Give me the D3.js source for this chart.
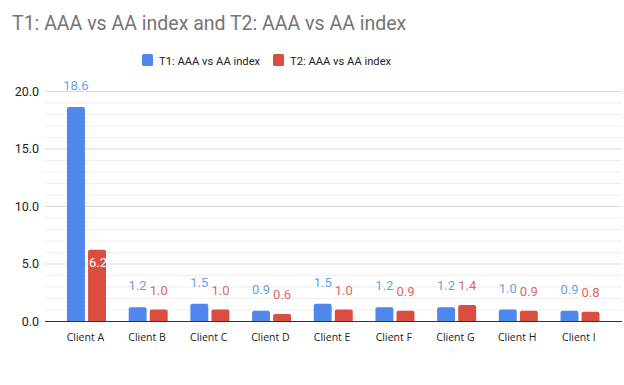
<!DOCTYPE html>
<html><head><meta charset="utf-8">
<script src="https://cdn.jsdelivr.net/npm/d3@7"></script>
<style>body{margin:0;background:#fff}svg{display:block;font-family:Roboto,Arial,sans-serif}</style>
</head><body><svg id="c" width="624" height="385"></svg>
<script>
const categories = ["Client A","Client B","Client C","Client D","Client E","Client F","Client G","Client H","Client I"];
const seriesNames = ["T1: AAA vs AA index","T2: AAA vs AA index"];
const t1Values = [18.6,1.2,1.5,0.9,1.5,1.2,1.2,1.0,0.9];
const t2Values = [6.2,1.0,1.0,0.6,1.0,0.9,1.4,0.9,0.8];
const yTicks = [0,5,10,15,20];
const colors = ["#4f87ec","#db4d3e"];
const labelColors = ["#6d9eeb","#e06666"];

const svg = d3.select("#c");
const y = d3.scaleLinear().domain([0,20]).range([321,91]);
const x = d3.scaleBand().domain(categories).range([56,611.2]).paddingInner(0).paddingOuter(0);
const x1 = d3.scaleBand().domain([0,1]).range([11,50]).paddingInner(0.15).paddingOuter(0);

// title
svg.append("text").attr("x",12).attr("y",30).attr("font-size",19.5).attr("fill","#757575")
  .text("T1: AAA vs AA index and T2: AAA vs AA index");

// legend
const leg = [{x:142,t:seriesNames[0],c:colors[0]},{x:273,t:seriesNames[1],c:colors[1]}];
leg.forEach(l=>{
  svg.append("rect").attr("x",l.x).attr("y",54).attr("width",11).attr("height",12).attr("rx",1.5).attr("fill",l.c);
  svg.append("text").attr("x",l.x+17).attr("y",65).attr("font-size",11.2).attr("fill","#222").text(l.t);
});

// gridlines
const minor = d3.range(0,21,1).filter(v=>v%5!==0);
svg.append("g").selectAll("line").data(minor).join("line")
  .attr("x1",45).attr("x2",622).attr("y1",d=>y(d)+0.5).attr("y2",d=>y(d)+0.5)
  .attr("stroke","#efefef").attr("stroke-width",1);
svg.append("g").selectAll("line").data(yTicks.filter(v=>v>0)).join("line")
  .attr("x1",45).attr("x2",622).attr("y1",d=>y(d)+0.5).attr("y2",d=>y(d)+0.5)
  .attr("stroke","#d9d9d9").attr("stroke-width",1);

// y axis labels
const yAxis = d3.axisLeft(y).tickValues(yTicks).tickFormat(d3.format(".1f")).tickSize(0).tickPadding(0);
const ga = svg.append("g").attr("transform","translate(39,0)").call(yAxis);
ga.select(".domain").remove();
ga.selectAll("text").attr("font-size",12.5).attr("fill","#222").attr("font-family","Roboto,Arial,sans-serif");

// bars
const data = categories.map((c,i)=>({c, v:[t1Values[i],t2Values[i]]}));
const groups = svg.append("g").selectAll("g").data(data).join("g")
  .attr("transform",d=>`translate(${x(d.c)},0)`);
const r = 2;
function barPath(x0,w,yt,yb){
  return `M${x0},${yb}V${yt+r}Q${x0},${yt} ${x0+r},${yt}H${x0+w-r}Q${x0+w},${yt} ${x0+w},${yt+r}V${yb}Z`;
}
[0,1].forEach(s=>{
  groups.append("path")
    .attr("d",d=>barPath(x1(s),x1.bandwidth(),y(d.v[s]),y(0)))
    .attr("fill",colors[s]);
  groups.append("text")
    .attr("x",d=>x1(s)+x1.bandwidth()/2 + (d.v[s]>4 && s===1 ? 1 : 0))
    .attr("y",d=> d.v[s]>4 && s===1 ? y(d.v[s])+17 : y(d.v[s])-17 + (s===1?2:0))
    .attr("text-anchor","middle").attr("font-size",13)
    .attr("fill",d=> d.v[s]>4 && s===1 ? "#fff" : labelColors[s])
    .text(d=>d3.format(".1f")(d.v[s]));
});

// baseline
svg.append("line").attr("x1",45).attr("x2",622).attr("y1",y(0)+0.5).attr("y2",y(0)+0.5)
  .attr("stroke","#333").attr("stroke-width",1.2);

// x labels
const xAxis = d3.axisBottom(x).tickSize(0).tickPadding(0);
const gx = svg.append("g").attr("transform","translate(-1.5,334)").call(xAxis);
gx.select(".domain").remove();
gx.selectAll("text").attr("font-size",10.5).attr("fill","#222").attr("font-family","'Open Sans',Roboto,Arial,sans-serif");
</script></body></html>
